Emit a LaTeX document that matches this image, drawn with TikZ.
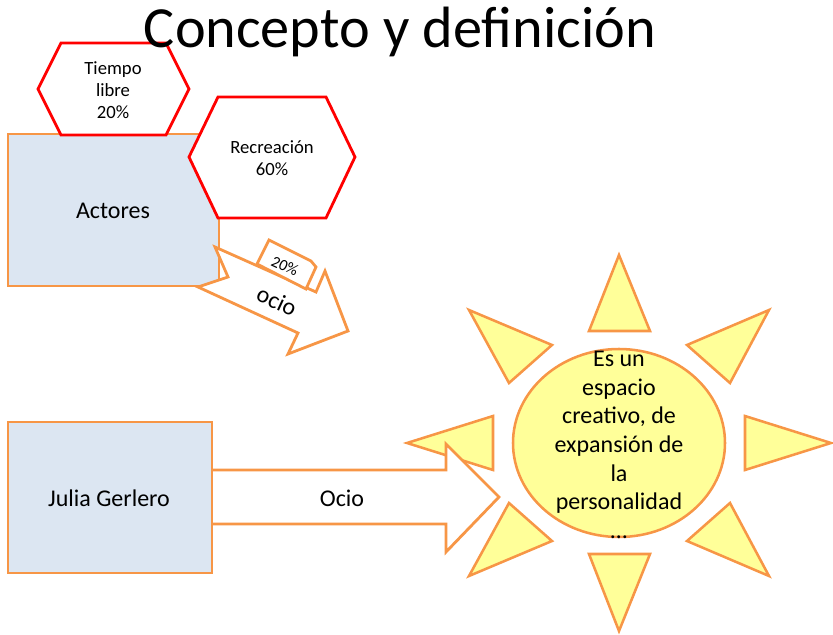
\documentclass[tikz,border=0pt]{standalone}
\usepackage{fontspec}
\setmainfont{Carlito}
\definecolor{orangeline}{HTML}{F79646}
\definecolor{boxfill}{HTML}{DCE6F2}
\definecolor{sunfill}{HTML}{FFFF99}
\tikzset{
  orangebox/.style={draw=orangeline,line width=2.1pt,fill=boxfill,line join=miter},
  redhex/.style={draw=red,line width=2.1pt,fill=white,line join=miter},
  whitearrow/.style={draw=orangeline,line width=2.1pt,fill=white,line join=miter},
  sunshape/.style={draw=orangeline,line width=1.9pt,fill=sunfill,line join=miter},
  label/.style={inner sep=0pt,align=center,text=black},
  smalltext/.style={label,font=\fontsize{14}{16.5}\selectfont},
  bodytext/.style={label,font=\fontsize{18}{21.5}\selectfont}
}
\begin{document}
\begin{tikzpicture}[x=0.75pt,y=-0.75pt]
\useasboundingbox (0,0) rectangle (833,635);
% left boxes
\draw[orangebox] (8,134) rectangle (219,286);
\node[bodytext] (actores) at (113,211) {Actores};
% hexagons
\draw[redhex] (61,43) -- (166,43) -- (189,89) -- (166,135) -- (61,135) -- (38,89) -- cycle;
\node[smalltext] (tiempo) at (113,90) {Tiempo\\libre\\20\%};
\draw[redhex] (218,97) -- (326,97) -- (355,157) -- (326,218) -- (218,218) -- (189,157) -- cycle;
\node[smalltext] (recreacion) at (272,158) {Recreación\\60\%};
% ocio arrow with tab
\draw[whitearrow] (215,247) -- (228,277) -- (198,287) -- (298,333) -- (288,354) -- (348,331) -- (325,271) -- (316,292) -- cycle;
\draw[whitearrow] (257,264) -- (269,240) -- (311,261) -- (316,267) -- (306,289) -- cycle;
\node[label,font=\fontsize{12}{14}\selectfont,rotate=-25] (veinte) at (285,266) {20\%};
\node[bodytext,rotate=-25] (ocio) at (277,301) {ocio};
% sun
\draw[sunshape] (619,255) -- (589,331) -- (650,331) -- cycle;
\draw[sunshape] (619,631) -- (589,554) -- (650,554) -- cycle;
\draw[sunshape] (407,443) -- (493,416) -- (493,470) -- cycle;
\draw[sunshape] (831,443) -- (745,416) -- (745,470) -- cycle;
\draw[sunshape] (469,310) -- (552,345) -- (509,383) -- cycle;
\draw[sunshape] (769,310) -- (687,345) -- (730,383) -- cycle;
\draw[sunshape] (469,576) -- (552,541) -- (509,503) -- cycle;
\draw[sunshape] (769,576) -- (687,541) -- (730,503) -- cycle;
\draw[sunshape] (619,443) ellipse [x radius=106,y radius=94];
\node[label,font=\fontsize{18}{21.5}\selectfont] (sun) at (619,445) {Es un\\espacio\\creativo, de\\expansión de\\la\\personalidad\\…};
% Ocio arrow
\draw[whitearrow] (212,470) -- (446,470) -- (446,444) -- (499,497) -- (446,552) -- (446,524) -- (212,524);
\node[bodytext] (ociob) at (342,498) {Ocio};
\draw[orangebox] (8,422) rectangle (212,573);
\node[bodytext] (julia) at (109,498) {Julia Gerlero};
% title
\node[label,font=\fontsize{43.7}{48}\selectfont] (title) at (400,32) {Concepto y definición};
\end{tikzpicture}
\end{document}
